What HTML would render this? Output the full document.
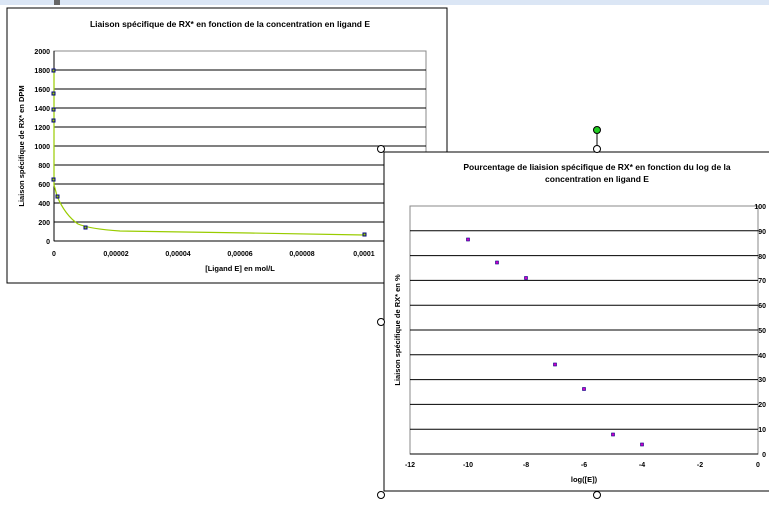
<!DOCTYPE html>
<html><head><meta charset="utf-8"><style>
body{margin:0;background:#fff;width:769px;height:505px;overflow:hidden}
svg text{font-family:"Liberation Sans",sans-serif;font-weight:bold}
</style></head><body>
<svg width="769" height="505" xmlns="http://www.w3.org/2000/svg">
<rect x="0" y="0" width="769" height="5" fill="#dbe6f5"/>
<rect x="54" y="0" width="6" height="5" fill="#666"/>
<!-- chart1 -->
<rect x="7" y="8" width="440" height="275" fill="#fff" stroke="#000" stroke-width="1"/>
<text x="230" y="27" font-size="8.5" text-anchor="middle">Liaison spécifique de RX* en fonction de la concentration en ligand E</text>
<rect x="54" y="51" width="372" height="190" fill="#fff" stroke="#888"/>
<g stroke="#000" stroke-width="1">
<line x1="54" y1="70" x2="426" y2="70"/><line x1="54" y1="89" x2="426" y2="89"/><line x1="54" y1="108" x2="426" y2="108"/><line x1="54" y1="127" x2="426" y2="127"/><line x1="54" y1="146" x2="426" y2="146"/><line x1="54" y1="165" x2="426" y2="165"/><line x1="54" y1="184" x2="426" y2="184"/><line x1="54" y1="203" x2="426" y2="203"/><line x1="54" y1="222" x2="426" y2="222"/>
<line x1="54" y1="241" x2="426" y2="241"/><line x1="54" y1="51" x2="54" y2="241"/>
</g>
<g font-size="7" text-anchor="end">
<text x="50" y="54">2000</text><text x="50" y="73">1800</text><text x="50" y="92">1600</text><text x="50" y="111">1400</text><text x="50" y="130">1200</text><text x="50" y="149">1000</text><text x="50" y="168">800</text><text x="50" y="187">600</text><text x="50" y="206">400</text><text x="50" y="225">200</text><text x="50" y="244">0</text>
</g>
<g font-size="7" text-anchor="middle">
<text x="54" y="256">0</text><text x="116" y="256">0,00002</text><text x="178" y="256">0,00004</text><text x="240" y="256">0,00006</text><text x="302" y="256">0,00008</text><text x="364" y="256">0,0001</text>
</g>
<text x="240" y="271" font-size="7.5" text-anchor="middle">[Ligand E] en mol/L</text>
<text transform="translate(24,146) rotate(-90)" font-size="7.5" text-anchor="middle">Liaison spécifique de RX* en DPM</text>
<path d="M54,71 L54,185 Q55,188 57,196 Q65,215 78,224 Q90,229 120,231 L250,233 L364,235" fill="none" stroke="#99cc00" stroke-width="1.2"/>
<g fill="#99cc00" stroke="#000080" stroke-width="1">
<rect x="52" y="69" width="3" height="3"/><rect x="52" y="92" width="3" height="3"/><rect x="52" y="108" width="3" height="3"/><rect x="52" y="119" width="3" height="3"/><rect x="52" y="178" width="3" height="3"/><rect x="56" y="195" width="3" height="3"/><rect x="84" y="226" width="3" height="3"/><rect x="363" y="233" width="3" height="3"/>
</g>
<!-- chart2 -->
<rect x="384" y="152" width="400" height="339" fill="#fff" stroke="#000"/>
<text x="597" y="170" font-size="8.5" text-anchor="middle">Pourcentage de liaision spécifique de RX* en fonction du log de la</text>
<text x="597" y="182" font-size="8.5" text-anchor="middle">concentration en ligand E</text>
<rect x="410" y="206" width="348" height="248" fill="#fff" stroke="#888"/>
<g stroke="#000">
<line x1="410" y1="230.8" x2="758" y2="230.8"/><line x1="410" y1="255.6" x2="758" y2="255.6"/><line x1="410" y1="280.4" x2="758" y2="280.4"/><line x1="410" y1="305.2" x2="758" y2="305.2"/><line x1="410" y1="330" x2="758" y2="330"/><line x1="410" y1="354.8" x2="758" y2="354.8"/><line x1="410" y1="379.6" x2="758" y2="379.6"/><line x1="410" y1="404.4" x2="758" y2="404.4"/><line x1="410" y1="429.2" x2="758" y2="429.2"/><line x1="410" y1="454" x2="758" y2="454"/>
</g>
<g font-size="7" text-anchor="end">
<text x="766" y="209">100</text><text x="766" y="234">90</text><text x="766" y="259">80</text><text x="766" y="283">70</text><text x="766" y="308">60</text><text x="766" y="333">50</text><text x="766" y="358">40</text><text x="766" y="382">30</text><text x="766" y="407">20</text><text x="766" y="432">10</text><text x="766" y="457">0</text>
</g>
<g font-size="7" text-anchor="middle">
<text x="410" y="467">-12</text><text x="468" y="467">-10</text><text x="526" y="467">-8</text><text x="584" y="467">-6</text><text x="642" y="467">-4</text><text x="700" y="467">-2</text><text x="758" y="467">0</text>
</g>
<text x="584" y="482" font-size="7.5" text-anchor="middle">log([E])</text>
<text transform="translate(400,330) rotate(-90)" font-size="7.5" text-anchor="middle">Liaison spécifique de RX* en %</text>
<g fill="#cc00cc" stroke="#000080" stroke-width="0.6">
<rect x="466.5" y="238" width="3" height="3"/><rect x="495.5" y="261" width="3" height="3"/><rect x="524.5" y="276.5" width="3" height="3"/><rect x="553.5" y="363" width="3" height="3"/><rect x="582.5" y="387.5" width="3" height="3"/><rect x="611.5" y="433" width="3" height="3"/><rect x="640.5" y="443" width="3" height="3"/>
</g>
<!-- handles -->
<line x1="597" y1="130" x2="597" y2="149" stroke="#000"/>
<circle cx="597" cy="130" r="3.5" fill="#22cc22" stroke="#000"/>
<g fill="#fff" stroke="#000">
<circle cx="381" cy="149" r="3.5"/><circle cx="597" cy="149" r="3.5"/><circle cx="381" cy="322" r="3.5"/><circle cx="381" cy="495" r="3.5"/><circle cx="597" cy="495" r="3.5"/>
</g>
</svg>
</body></html>
